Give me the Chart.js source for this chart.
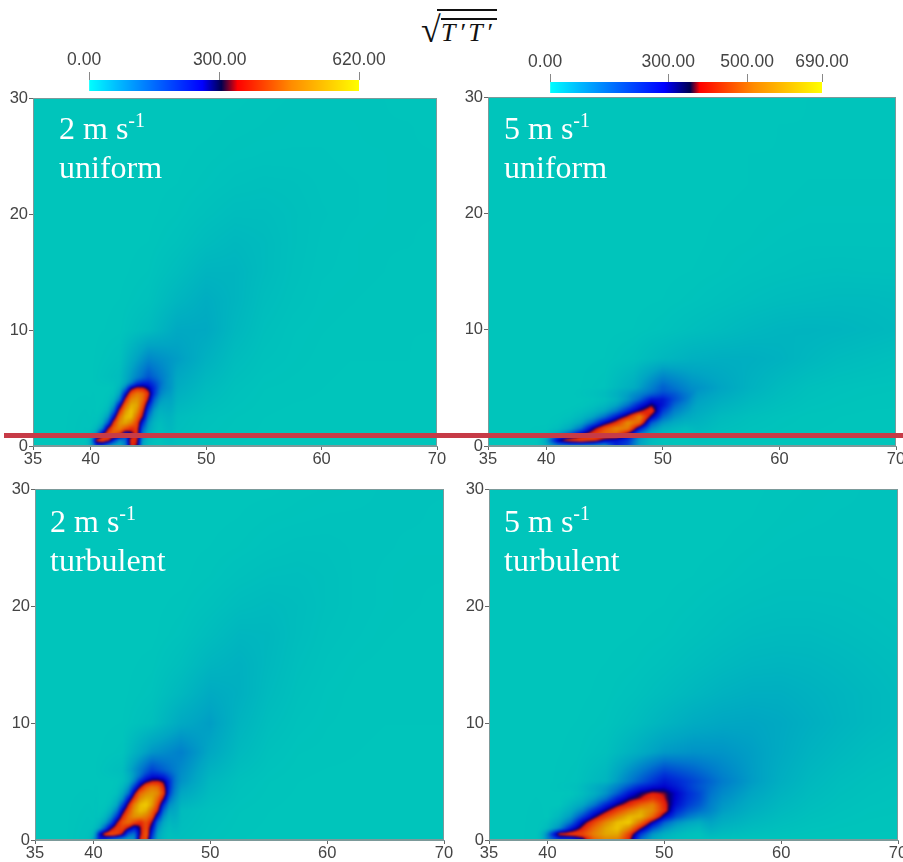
<!DOCTYPE html>
<html>
<head>
<meta charset="utf-8">
<script src="https://cdn.jsdelivr.net/npm/chart.js@4"></script>
<style>
html, body { margin: 0; padding: 0; background: #fff; width: 903px; height: 862px; overflow: hidden; }
canvas { position: absolute; }
.lab { position: absolute; color: #fff; font: 32px/39px "Liberation Serif", serif; white-space: nowrap; }
.lab sup { font-size: 20px; line-height: 0; vertical-align: 12px; }
.redline { position: absolute; left: 4px; top: 433px; width: 899px; height: 5px; background: #c73b47; }
.bar { position: absolute; background: #111; height: 2px; }
.eq { position: absolute; font: italic 26px "Liberation Serif", serif; color: #111; white-space: nowrap; }
</style>
</head>
<body>
<div class="eq" style="left:421px;top:9px;font-style:normal;font-size:36px">√</div>
<div class="bar" style="left:437px;top:9px;width:60px"></div>
<div class="bar" style="left:441px;top:18px;width:56px"></div>
<div class="eq" style="left:441px;top:18px;letter-spacing:3.5px">T′T′</div>

<canvas id="bar1"></canvas>
<canvas id="bar2"></canvas>
<canvas id="p1"></canvas>
<canvas id="p2"></canvas>
<canvas id="p3"></canvas>
<canvas id="p4"></canvas>

<div class="lab" style="left:59px;top:109px">2 m s<sup>-1</sup><br>uniform</div>
<div class="lab" style="left:504px;top:109px">5 m s<sup>-1</sup><br>uniform</div>
<div class="lab" style="left:50px;top:502px">2 m s<sup>-1</sup><br>turbulent</div>
<div class="lab" style="left:504px;top:502px">5 m s<sup>-1</sup><br>turbulent</div>
<div class="redline"></div>

<script>
const xTicks = [35, 40, 50, 60, 70];
const yTicks = [0, 10, 20, 30];
const bar1Ticks = [0, 300, 620];
const bar2Ticks = [0, 300, 500, 690];

// whole domain grid, rows run from y=30 down to y=0
const coarseX = [35, 37.5, 40, 42.5, 45, 47.5, 50, 52.5, 55, 57.5, 60, 62.5, 65, 67.5, 70];
const coarseY = [30, 27.5, 25, 22.5, 20, 17.5, 15, 12.5, 10, 7.5, 5, 2.5, 0];

const u2Coarse = [
  [0,0,0,0,0,0,0,0,2,3,3,3,3,2,2],
  [0,0,0,0,0,0,0,2,3,4,4,4,3,3,2],
  [0,0,0,0,0,0,2,4,5,5,5,4,4,3,3],
  [0,0,0,0,0,1,4,8,10,9,6,5,4,3,3],
  [0,0,0,0,0,3,9,15,15,11,7,5,4,3,3],
  [0,0,0,0,1,7,17,24,19,11,6,4,3,3,2],
  [0,0,0,0,3,15,31,31,19,10,5,4,3,2,2],
  [0,0,0,1,7,29,45,31,15,8,4,3,2,2,1],
  [0,0,0,2,18,52,52,26,11,5,3,2,2,1,1],
  [0,0,0,8,100,70,38,16,7,4,2,1,1,1,0],
  [0,0,0,20,200,45,20,8,3,2,1,0,0,0,0],
  [0,0,5,100,100,15,6,3,1,0,0,0,0,0,0],
  [0,0,8,30,30,8,3,1,0,0,0,0,0,0,0]
];
const u5Coarse = [
  [0,0,0,0,0,0,0,0,0,0,0,1,2,2,2],
  [0,0,0,0,0,0,0,0,0,0,1,1,2,2,2],
  [0,0,0,0,0,0,0,0,0,1,1,2,2,2,2],
  [0,0,0,0,0,0,0,0,0,1,2,3,3,3,3],
  [0,0,0,0,0,0,0,0,1,2,3,4,4,4,4],
  [0,0,0,0,0,0,0,0,2,3,5,6,6,6,6],
  [0,0,0,0,0,0,0,1,3,6,8,10,11,10,10],
  [0,0,0,0,0,0,1,4,8,12,16,18,20,20,18],
  [0,0,0,0,0,1,5,12,18,25,30,32,30,26,22],
  [0,0,0,0,1,8,25,38,42,42,36,26,18,14,10],
  [0,0,0,0,5,45,150,90,60,36,20,10,6,4,3],
  [0,0,0,10,100,300,140,45,20,10,5,2,1,0,0],
  [0,0,5,50,60,60,5,2,0,0,0,0,0,0,0]
];
const t2Coarse = [
  [0,0,0,0,0,0,0,0,0,2,3,4,5,5,5],
  [0,0,0,0,0,0,0,1,3,4,5,5,5,5,4],
  [0,0,0,0,0,0,1,3,6,8,8,6,5,4,4],
  [0,0,0,0,0,0,3,8,12,13,10,6,4,3,3],
  [0,0,0,0,0,2,8,16,20,16,10,6,4,3,2],
  [0,0,0,0,0,5,16,28,26,15,8,5,3,2,2],
  [0,0,0,0,2,12,30,38,24,12,6,3,2,2,1],
  [0,0,0,0,5,25,50,40,20,9,4,2,2,1,1],
  [0,0,0,1,12,52,70,32,14,6,3,2,1,1,1],
  [0,0,0,4,80,110,55,22,8,3,2,1,0,0,0],
  [0,0,0,20,250,85,25,8,3,1,0,0,0,0,0],
  [0,0,5,150,300,18,8,3,1,0,0,0,0,0,0],
  [0,0,10,60,30,10,4,1,0,0,0,0,0,0,0]
];
const t5Coarse = [
  [0,0,0,0,0,0,0,0,0,0,2,3,4,5,5],
  [0,0,0,0,0,0,0,0,0,1,3,4,5,5,5],
  [0,0,0,0,0,0,0,0,1,3,5,6,6,6,5],
  [0,0,0,0,0,0,0,1,3,6,8,8,8,7,6],
  [0,0,0,0,0,0,1,4,8,11,13,13,12,10,8],
  [0,0,0,0,0,1,3,8,13,18,20,20,17,14,11],
  [0,0,0,0,1,3,8,15,22,28,30,28,24,19,15],
  [0,0,0,0,2,7,16,26,36,42,42,36,30,24,18],
  [0,0,0,1,4,15,32,48,56,58,52,42,32,24,18],
  [0,0,0,2,10,40,75,85,82,68,50,34,24,16,12],
  [0,0,0,5,30,135,240,180,115,72,42,24,14,9,6],
  [0,0,3,60,300,450,350,145,70,40,22,12,7,4,3],
  [0,0,5,170,470,230,20,8,4,2,1,0,0,0,0]
];

// finer cells around the flame, rows run downwards to y=0
const fineY6 = [6, 5.5, 5, 4.5, 4, 3.5, 3, 2.5, 2, 1.5, 1, 0.5, 0];
const fineY5 = [5, 4.5, 4, 3.5, 3, 2.5, 2, 1.5, 1, 0.5, 0];

const u2FineX = [39.5, 40, 40.5, 41, 41.5, 42, 42.5, 43, 43.5, 44, 44.5, 45, 45.5, 46, 46.5, 47];
const u2Fine = [
  [0,0,0,0,0,2,10,30,70,130,180,190,170,120,85,60],
  [0,0,0,0,0,3,15,50,120,240,270,250,200,140,90,60],
  [0,0,0,0,0,5,30,110,280,340,335,285,210,130,80,50],
  [0,0,0,0,2,10,60,240,410,470,450,350,200,110,60,35],
  [0,0,0,0,5,30,120,345,490,510,450,310,150,80,40,25],
  [0,0,0,2,12,70,250,440,540,530,410,230,110,55,30,18],
  [0,0,0,5,30,140,360,510,570,500,360,170,70,35,20,12],
  [0,0,3,20,75,250,450,550,560,440,310,120,50,25,12,8],
  [0,0,8,40,160,370,500,530,480,390,220,80,30,15,8,6],
  [0,5,30,110,320,440,480,410,355,380,150,60,25,10,6,4],
  [2,30,95,300,410,430,360,200,280,370,110,40,15,8,4,3],
  [10,120,350,400,355,210,100,130,370,340,70,25,10,5,3,2],
  [10,90,180,160,80,40,30,110,350,310,50,15,6,3,2,1]
];

const t2FineX = [39.5, 40, 40.5, 41, 41.5, 42, 42.5, 43, 43.5, 44, 44.5, 45, 45.5, 46, 46.5, 47, 47.5];
const t2Fine = [
  [0,0,0,0,0,0,3,10,30,70,130,190,220,210,170,120,85],
  [0,0,0,0,0,0,5,20,60,130,220,260,280,260,190,130,90],
  [0,0,0,0,0,2,10,40,110,220,290,330,335,305,210,130,85],
  [0,0,0,0,0,5,25,80,200,320,420,470,450,350,210,120,75],
  [0,0,0,0,2,10,50,130,300,440,490,510,490,380,190,100,60],
  [0,0,0,0,5,30,90,240,385,500,540,530,440,310,140,70,40],
  [0,0,0,2,15,55,180,335,480,560,580,520,390,210,90,45,25],
  [0,0,0,8,40,115,275,400,510,560,540,450,340,140,60,30,15],
  [0,0,5,25,85,200,350,450,500,500,470,410,230,90,40,20,10],
  [0,3,20,65,160,310,420,450,390,345,410,320,130,55,25,12,6],
  [0,15,50,160,300,380,390,310,230,310,410,260,90,35,15,8,4],
  [5,60,250,370,410,390,310,150,120,310,430,210,60,25,10,5,3],
  [15,120,220,180,110,80,50,50,80,360,410,160,50,20,8,4,2]
];

const u5FineX = [39, 40, 41, 42, 43, 44, 45, 46, 47, 48, 49, 50, 51, 52, 53];
const u5Fine = [
  [0,0,0,0,0,0,5,15,30,60,100,150,170,140,100],
  [0,0,0,0,0,0,8,20,50,95,160,210,190,140,100],
  [0,0,0,0,0,3,10,30,75,140,240,240,170,120,85],
  [0,0,0,0,2,10,25,60,130,230,310,240,140,95,70],
  [0,0,0,2,10,25,55,120,220,310,375,190,110,75,55],
  [0,0,2,8,25,60,130,240,345,490,290,140,80,55,40],
  [0,0,5,20,55,140,265,360,500,440,160,80,50,35,25],
  [0,3,15,50,130,290,410,490,470,240,90,40,25,15,10],
  [0,10,60,155,290,380,440,430,290,110,40,20,10,6,4],
  [5,60,290,380,400,380,280,250,200,70,20,5,3,2,1],
  [5,40,90,100,90,70,60,210,170,60,15,5,2,1,0]
];

const t5FineX = [39, 40, 41, 42, 43, 44, 45, 46, 47, 48, 49, 50, 51, 52, 53, 54];
const t5Fine = [
  [0,0,0,0,0,10,30,55,100,170,220,240,220,180,150,125],
  [0,0,0,0,8,25,50,90,160,240,280,285,250,200,165,135],
  [0,0,0,0,15,40,80,150,240,300,335,320,270,210,175,140],
  [0,0,0,10,30,70,130,230,300,330,385,330,265,205,170,140],
  [0,0,0,25,55,120,220,300,360,440,480,350,250,190,155,125],
  [0,0,12,45,105,210,300,390,470,530,490,360,215,160,130,100],
  [0,0,25,75,180,290,390,480,550,550,440,270,170,120,90,70],
  [0,10,50,130,280,390,490,560,580,450,280,150,90,60,45,35],
  [0,20,90,230,340,450,530,570,490,320,170,90,50,30,20,15],
  [5,110,350,380,400,480,530,530,380,190,80,40,20,10,6,4],
  [5,100,170,170,260,430,480,470,340,120,50,20,10,5,3,2]
];

// colour map used inside the plots
const plotStopValues = [0, 60, 120, 200, 270, 300, 315, 332, 430, 520, 620];
const plotStopColors = [[0,197,187],[0,165,195],[0,120,205],[0,50,215],[0,0,205],[0,0,120],[70,0,60],[225,25,10],[235,95,5],[225,160,0],[250,235,0]];

// colour bars on top
const bar1Stops = [0, 0.1, 0.42, 0.49, 0.55, 0.75, 1];
const bar2Stops = [0, 0.1, 0.42, 0.515, 0.55, 0.75, 1];
const barColors = ['#00ffff', '#00bfff', '#0000ff', '#000050', '#ff0000', '#ff8c00', '#ffff00'];

function plotColor(v) {
    const n = plotStopValues.length;
    if (v <= 0) return plotStopColors[0];
    for (let i = 1; i < n; i++) {
        if (v <= plotStopValues[i]) {
            const t = (v - plotStopValues[i - 1]) / (plotStopValues[i] - plotStopValues[i - 1]);
            const a = plotStopColors[i - 1], b = plotStopColors[i];
            return [a[0] + (b[0] - a[0]) * t, a[1] + (b[1] - a[1]) * t, a[2] + (b[2] - a[2]) * t];
        }
    }
    return plotStopColors[n - 1];
}

function findCell(list, v) {
    // list may be ascending or descending
    const asc = list[1] > list[0];
    for (let i = 0; i < list.length - 1; i++) {
        const a = list[i], b = list[i + 1];
        if (asc ? v <= b : v >= b) return [i, (v - a) / (b - a)];
    }
    return [list.length - 2, 1];
}

function sampleLayer(ds, x, y) {
    const [i, tx] = findCell(ds.gridX, x);
    const [j, ty] = findCell(ds.gridY, y);
    const r0 = ds.rows[j], r1 = ds.rows[j + 1];
    const top = r0[i] + (r0[i + 1] - r0[i]) * tx;
    const bot = r1[i] + (r1[i + 1] - r1[i]) * tx;
    return top + (bot - top) * ty;
}

const fieldPlugin = {
    id: 'field',
    beforeDatasetsDraw(chart) {
        const area = chart.chartArea, sx = chart.scales.x, sy = chart.scales.y, ctx = chart.ctx;
        const w = Math.round(area.width), h = Math.round(area.height);
        const l = Math.round(area.left), t = Math.round(area.top);
        const off = document.createElement('canvas');
        off.width = w; off.height = h;
        const offCtx = off.getContext('2d');
        const img = offCtx.createImageData(w, h);
        const [coarse, fine] = chart.data.datasets;
        const fx0 = fine.gridX[0], fx1 = fine.gridX[fine.gridX.length - 1], fy1 = fine.gridY[0];
        for (let py = 0; py < h; py++) {
            const y = sy.getValueForPixel(t + py + 0.5);
            for (let px = 0; px < w; px++) {
                const x = sx.getValueForPixel(l + px + 0.5);
                // fade the fine cells into the coarse ones over one unit at their edge
                const edge = Math.min(x - fx0, fx1 - x, fy1 - y);
                let v;
                if (edge <= 0) v = sampleLayer(coarse, x, y);
                else if (edge >= 1) v = sampleLayer(fine, x, y);
                else v = edge * sampleLayer(fine, x, y) + (1 - edge) * sampleLayer(coarse, x, y);
                const c = plotColor(v);
                const k = (py * w + px) * 4;
                img.data[k] = c[0]; img.data[k + 1] = c[1]; img.data[k + 2] = c[2]; img.data[k + 3] = 255;
            }
        }
        offCtx.putImageData(img, 0, 0);
        ctx.save();
        ctx.beginPath();
        ctx.rect(l, t, w, h);
        ctx.clip();
        ctx.drawImage(off, l, t);
        ctx.filter = 'blur(1px)';
        ctx.drawImage(off, l, t);
        ctx.restore();
        ctx.strokeStyle = '#7c9a9a';
        ctx.lineWidth = 1;
        ctx.strokeRect(l + 0.5, t + 0.5, w - 1, h - 1);
    }
};

function gridPoints(gridX, gridY, rows) {
    const pts = [];
    gridY.forEach((y, j) => gridX.forEach((x, i) => pts.push({ x: x, y: y, v: rows[j][i] })));
    return pts;
}

function layer(label, gridX, gridY, rows) {
    return { label: label, gridX: gridX, gridY: gridY, rows: rows, data: gridPoints(gridX, gridY, rows), pointRadius: 0, showLine: false };
}

function makePanel(id, left, top, width, height, coarse, fineX, fineY, fine) {
    const yAxisW = 33, xAxisH = 26, padTop = 12, padRight = 20;
    const el = document.getElementById(id);
    el.width = yAxisW + width + padRight;
    el.height = padTop + height + xAxisH;
    el.style.left = (left - yAxisW) + 'px';
    el.style.top = (top - padTop) + 'px';
    const tickFont = { family: '"Liberation Sans", sans-serif', size: 16.5 };
    new Chart(el.getContext('2d'), {
        type: 'scatter',
        data: { datasets: [layer('coarse', coarseX, coarseY, coarse), layer('fine', fineX, fineY, fine)] },
        options: {
            responsive: false,
            animation: false,
            layout: { padding: { top: padTop, right: padRight, left: 0, bottom: 0 } },
            plugins: { legend: { display: false }, tooltip: { enabled: false } },
            scales: {
                x: {
                    type: 'linear', min: 35, max: 70,
                    afterBuildTicks: s => { s.ticks = xTicks.map(v => ({ value: v })); },
                    afterFit: s => { s.height = xAxisH; },
                    grid: { drawOnChartArea: false, tickLength: 4, color: '#666' },
                    border: { color: '#7c9a9a' },
                    ticks: { autoSkip: false, maxRotation: 0, padding: 0, color: '#444', font: tickFont }
                },
                y: {
                    type: 'linear', min: 0, max: 30,
                    afterBuildTicks: s => { s.ticks = yTicks.map(v => ({ value: v })); },
                    afterFit: s => { s.width = yAxisW; },
                    grid: { drawOnChartArea: false, tickLength: 4, color: '#666' },
                    border: { color: '#7c9a9a' },
                    ticks: { padding: 1, color: '#444', font: tickFont }
                }
            }
        },
        plugins: [fieldPlugin]
    });
}

function makeColorBar(id, left, top, width, max, tickValues, stops) {
    const pad = 50, axisH = 34, barH = 11;
    const el = document.getElementById(id);
    el.width = width + pad * 2;
    el.height = axisH + barH;
    el.style.left = (left - pad) + 'px';
    el.style.top = (top - axisH) + 'px';
    new Chart(el.getContext('2d'), {
        type: 'bar',
        data: {
            labels: ['T'],
            datasets: [{
                data: [[0, max]],
                barPercentage: 1,
                categoryPercentage: 1,
                backgroundColor: ctx => {
                    const chart = ctx.chart;
                    if (!chart.chartArea) return '#000';
                    const g = chart.ctx.createLinearGradient(chart.chartArea.left, 0, chart.chartArea.right, 0);
                    stops.forEach((s, i) => g.addColorStop(s, barColors[i]));
                    return g;
                }
            }]
        },
        options: {
            indexAxis: 'y',
            responsive: false,
            animation: false,
            layout: { padding: { left: pad, right: pad, top: 0, bottom: 0 } },
            plugins: { legend: { display: false }, tooltip: { enabled: false } },
            scales: {
                x: {
                    type: 'linear', position: 'top', min: 0, max: max,
                    afterBuildTicks: s => { s.ticks = tickValues.map(v => ({ value: v })); },
                    afterFit: s => { s.height = axisH; },
                    grid: { drawOnChartArea: false, tickLength: 8, color: '#888' },
                    border: { display: false },
                    ticks: {
                        autoSkip: false, maxRotation: 0, padding: 1, color: '#444',
                        font: { family: '"Liberation Sans", sans-serif', size: 17.5 },
                        // the 0.00 label sits a little left of its tick
                        callback: v => v === 0 ? '0.00  ' : v.toFixed(2)
                    }
                },
                y: { display: false }
            }
        }
    });
}

makeColorBar('bar1', 89, 80, 270, 620, bar1Ticks, bar1Stops);
makeColorBar('bar2', 550, 82, 272, 690, bar2Ticks, bar2Stops);

makePanel('p1', 33, 98, 404, 348, u2Coarse, u2FineX, fineY6, u2Fine);
makePanel('p2', 488, 97, 408, 349, u5Coarse, u5FineX, fineY5, u5Fine);
makePanel('p3', 35, 489, 409, 351, t2Coarse, t2FineX, fineY6, t2Fine);
makePanel('p4', 489, 489, 409, 351, t5Coarse, t5FineX, fineY5, t5Fine);
</script>
</body>
</html>
